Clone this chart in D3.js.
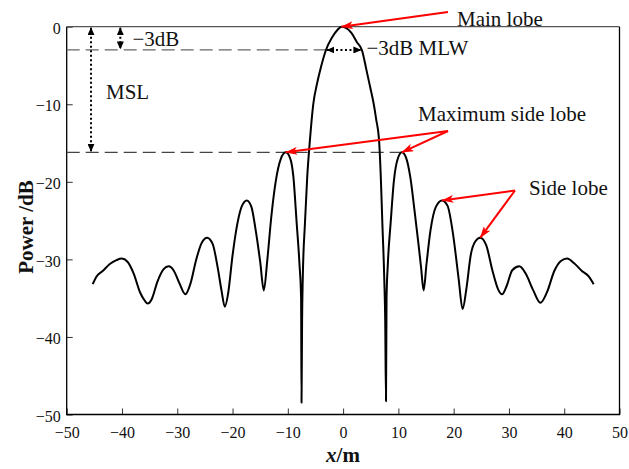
<!DOCTYPE html>
<html>
<head>
<meta charset="utf-8">
<script src="https://cdn.jsdelivr.net/npm/d3@7/dist/d3.min.js"></script>
<style>
  html, body { margin: 0; padding: 0; background: #fff; }
  svg { display: block; }
  svg text { font-family: "Liberation Serif", "Times New Roman", serif; }
</style>
</head>
<body>
<svg id="chart" width="629" height="469"></svg>
<script>
// Beam pattern samples: position along the aperture (m) and relative power (dB)
const positions = [
  -45.3, -44.6, -43.5, -42.2, -41.0, -40.05, -39.0, -37.9, -36.7, -35.9, -35.35, -34.6, -33.6, -32.5,
  -31.55, -30.6, -29.6, -28.54, -27.6, -26.6, -25.6, -24.6, -23.6, -22.7, -22.0, -21.4, -20.8, -20.0,
  -19.1, -18.3, -17.42, -16.6, -15.8, -15.0, -14.34, -13.7, -13.0, -12.2, -11.3, -10.37, -9.6, -9.0,
  -8.4, -7.9, -7.6, -7.52, -7.42, -7.3, -6.9, -6.5, -6.0, -5.4, -4.7, -4.0, -3.1, -2.0, -1.0, -0.3,
  0.5, 1.5, 2.5, 3.4, 4.2, 4.9, 5.5, 6.0, 6.5, 6.8, 7.1, 7.45, 7.62, 7.76, 7.86, 8.1, 8.6, 9.2, 9.9,
  10.64, 11.4, 12.2, 12.9, 13.6, 14.1, 14.56, 15.1, 15.8, 16.8, 17.89, 18.9, 19.9, 20.9, 21.62, 22.3,
  23.1, 23.9, 24.82, 25.9, 27.0, 28.0, 28.75, 29.6, 30.6, 31.89, 33.0, 34.4, 35.69, 36.9, 38.2, 39.4,
  40.52, 41.8, 43.2, 44.43, 45.33
];
const powerDb = [
  -33.2, -32.2, -31.5, -30.6, -30.1, -29.9, -30.3, -31.8, -34.3, -35.3, -35.7, -35.1, -32.9, -31.3,
  -30.9, -31.5, -33.1, -34.5, -33.1, -30.1, -27.9, -27.2, -28.0, -31.0, -34.0, -36.1, -34.4, -29.5,
  -25.3, -23.1, -22.4, -23.2, -26.3, -30.3, -34.0, -30.0, -24.6, -20.0, -17.1, -16.2, -16.9, -19.3,
  -25.3, -30.5, -35.0, -48.5, -38.0, -32.6, -25.3, -19.5, -14.6, -10.0, -7.3, -5.2, -3.0, -1.4, -0.4, 0,
  -0.15, -0.8, -2.0, -3.0, -5.5, -7.8, -9.8, -12.0, -14.6, -19.0, -25.3, -32.6, -38.0, -48.3, -35.0,
  -30.5, -25.3, -19.8, -17.0, -16.2, -16.9, -19.6, -23.6, -27.8, -31.0, -34.0, -30.5, -26.3, -23.2,
  -22.4, -23.1, -26.8, -32.5, -36.4, -33.8, -29.4, -27.7, -27.2, -28.2, -31.4, -33.8, -34.5, -33.4,
  -31.4, -30.9, -31.8, -34.0, -35.6, -34.2, -31.5, -30.2, -29.9, -30.5, -31.5, -32.2, -33.2
];

// Axis ticks
const xTicks = [-50, -40, -30, -20, -10, 0, 10, 20, 30, 40, 50];
const yTicks = [-50, -40, -30, -20, -10, 0];

// Reference levels (dB) and the widths they mark
const halfPowerLevel = -3;
const maxSideLobeLevel = -16.2;
const mainLobePeak = [-0.3, 0];
const halfPowerEdges = [-3.1, 3.4];
const sideLobePeaks = [[-10.37, -16.2], [10.64, -16.2]];
const minorLobePeaks = [[17.89, -22.4], [24.82, -27.2]];

const serif = "'Liberation Serif', 'Times New Roman', serif";
const svg = d3.select("#chart");
const x = d3.scaleLinear().domain([-50, 50]).range([66.7, 619.5]);
const y = d3.scaleLinear().domain([-50, 0]).range([414.5, 26.7]);

// Markers
const defs = svg.append("defs");
defs.append("marker")
  .attr("id", "redHead").attr("viewBox", "0 0 12 8")
  .attr("refX", 11.5).attr("refY", 4)
  .attr("markerWidth", 12).attr("markerHeight", 8)
  .attr("markerUnits", "userSpaceOnUse").attr("orient", "auto")
  .append("path").attr("d", "M0,0 L12,4 L0,8 L3,4 Z").attr("fill", "#ff0000");
defs.append("marker")
  .attr("id", "blackHead").attr("viewBox", "0 0 8 7")
  .attr("refX", 7.5).attr("refY", 3.5)
  .attr("markerWidth", 8).attr("markerHeight", 7)
  .attr("markerUnits", "userSpaceOnUse").attr("orient", "auto-start-reverse")
  .append("path").attr("d", "M0,0 L8,3.5 L0,7 Z").attr("fill", "#000");

// Axes (ticks point inward)
const xAxis = d3.axisBottom(x).tickValues(xTicks).tickSizeInner(-6).tickSizeOuter(0).tickPadding(12);
const yAxis = d3.axisLeft(y).tickValues(yTicks).tickSizeInner(-6).tickSizeOuter(0).tickPadding(6);

const gx = svg.append("g").attr("transform", `translate(0,${y(-50)})`).call(xAxis);
const gy = svg.append("g").attr("transform", `translate(${x(-50)},0)`).call(yAxis);
[gx, gy].forEach(g => {
  g.attr("font-family", serif).attr("font-size", 16);
  g.select(".domain").remove();
  g.selectAll(".tick line").attr("stroke", "#333").attr("stroke-width", 1);
  g.selectAll(".tick text").attr("font-family", serif).attr("font-size", 16).attr("fill", "#111");
});
gy.selectAll(".tick text").attr("dy", "0.42em");

// Frame
svg.append("path")
  .attr("d", `M${x(-50)},${y(0)} V${y(-50)} H${x(50)} V${y(0)}`)
  .attr("fill", "none").attr("stroke", "#000").attr("stroke-width", 1.3);
svg.append("line")
  .attr("x1", x(-50)).attr("x2", x(50)).attr("y1", y(0)).attr("y2", y(0))
  .attr("stroke", "#555").attr("stroke-width", 1.3);

// Reference dashed levels
svg.append("line")
  .attr("x1", x(-50)).attr("x2", x(halfPowerEdges[0])).attr("y1", y(halfPowerLevel)).attr("y2", y(halfPowerLevel))
  .attr("stroke", "#666").attr("stroke-width", 1.3).attr("stroke-dasharray", "13,6");
svg.append("line")
  .attr("x1", x(-50)).attr("x2", x(sideLobePeaks[1][0])).attr("y1", y(maxSideLobeLevel)).attr("y2", y(maxSideLobeLevel))
  .attr("stroke", "#444").attr("stroke-width", 1.3).attr("stroke-dasharray", "13,6");

// Pattern curve
const pts = positions.map((p, i) => [p, powerDb[i]]);
svg.append("path")
  .datum(pts)
  .attr("fill", "none").attr("stroke", "#000").attr("stroke-width", 2)
  .attr("stroke-linejoin", "round")
  .attr("d", d3.line().x(d => x(d[0])).y(d => y(d[1])).curve(d3.curveMonotoneX));

// Dotted double-headed measurement arrows
function dotted(x1, y1, x2, y2) {
  svg.append("line")
    .attr("x1", x1).attr("y1", y1).attr("x2", x2).attr("y2", y2)
    .attr("stroke", "#000").attr("stroke-width", 2).attr("stroke-dasharray", "2,2.5")
    .attr("marker-start", "url(#blackHead)").attr("marker-end", "url(#blackHead)");
}
dotted(x(-45.6), y(0) + 1, x(-45.6), y(maxSideLobeLevel) - 1);
dotted(x(-40.3), y(0) + 1, x(-40.3), y(halfPowerLevel) - 1);
dotted(x(halfPowerEdges[0]) + 1, y(halfPowerLevel), x(halfPowerEdges[1]) - 1, y(halfPowerLevel));

// Red pointer arrows
function pointer(fromX, fromY, target) {
  svg.append("line")
    .attr("x1", fromX).attr("y1", fromY)
    .attr("x2", x(target[0])).attr("y2", y(target[1]))
    .attr("stroke", "#ff0000").attr("stroke-width", 2)
    .attr("marker-end", "url(#redHead)");
}
pointer(448, 12, mainLobePeak);
pointer(448, 131, sideLobePeaks[0]);
pointer(448, 131, sideLobePeaks[1]);
pointer(515, 190.5, minorLobePeaks[0]);
pointer(515, 190.5, minorLobePeaks[1]);

// Annotation text
const note = (tx, ty, s) => svg.append("text")
  .attr("x", tx).attr("y", ty).attr("font-family", serif)
  .attr("font-size", 21).attr("fill", "#111").text(s);
note(457, 26, "Main lobe");
note(366.5, 55, "\u22123dB MLW");
note(418, 121, "Maximum side lobe");
note(529, 195, "Side lobe");
note(132.5, 45.5, "\u22123dB");
note(106, 99, "MSL");

// Axis titles
svg.append("text")
  .attr("transform", "translate(33,227) rotate(-90)")
  .attr("text-anchor", "middle").attr("font-family", serif)
  .attr("font-size", 21).attr("font-weight", "bold").attr("fill", "#111")
  .text("Power /dB");
const xt = svg.append("text")
  .attr("x", 343).attr("y", 462).attr("text-anchor", "middle").attr("font-family", serif)
  .attr("font-size", 21).attr("font-weight", "bold").attr("fill", "#111");
xt.append("tspan").attr("font-style", "italic").text("x");
xt.append("tspan").text("/m");
</script>
</body>
</html>
